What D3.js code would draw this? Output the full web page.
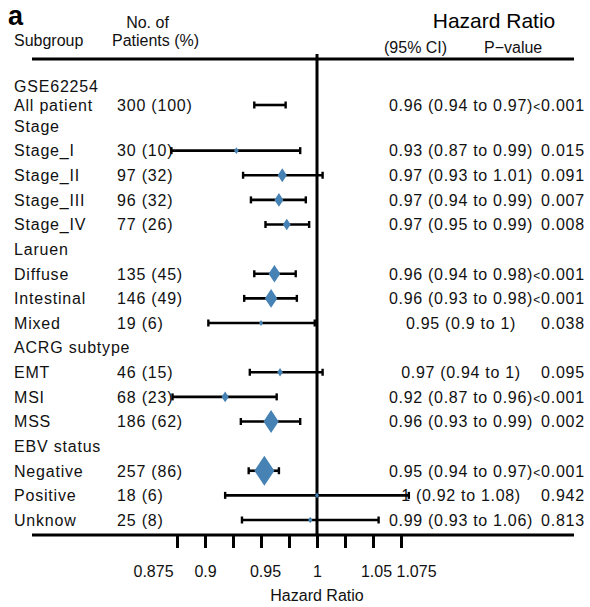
<!DOCTYPE html>
<html>
<head>
<meta charset="utf-8">
<script src="https://cdn.jsdelivr.net/npm/d3@7"></script>
<style>
  body { margin: 0; background: #fff; }
  svg { display: block; font-family: "Liberation Sans", Arial, sans-serif; }
  .row text { font-size: 16px; letter-spacing: 0.8px; fill: #111; }
  .row text.hr { letter-spacing: 0.7px; }
  .hdr { font-size: 16px; fill: #111; }
</style>
</head>
<body>
<script>
const w = 590;
const h = 607;

// rows of the forest plot, top to bottom
const labels = ["GSE62254", "All patient", "Stage", "Stage_I", "Stage_II", "Stage_III", "Stage_IV",
  "Laruen", "Diffuse", "Intestinal", "Mixed", "ACRG subtype", "EMT", "MSI", "MSS",
  "EBV status", "Negative", "Positive", "Unknow"];
const patients = [null, 300, null, 30, 97, 96, 77, null, 135, 146, 19, null, 46, 68, 186, null, 257, 18, 25];
const percent = [null, 100, null, 10, 32, 32, 26, null, 45, 49, 6, null, 15, 23, 62, null, 86, 6, 8];
// estimates read off the marks
const hr = [null, 0.958, null, 0.928, 0.969, 0.966, 0.973, null, 0.962, 0.959, 0.950, null, 0.967, 0.918, 0.959, null, 0.953, 1.0, 0.994];
const lower = [null, 0.944, null, 0.870, 0.934, 0.941, 0.954, null, 0.944, 0.935, 0.903, null, 0.940, 0.871, 0.932, null, 0.939, 0.918, 0.933];
const upper = [null, 0.972, null, 0.985, 1.005, 0.990, 0.993, null, 0.981, 0.982, 0.998, null, 1.005, 0.964, 0.985, null, 0.966, 1.082, 1.055];
const hrText = [null, "0.96 (0.94 to 0.97)", null, "0.93 (0.87 to 0.99)", "0.97 (0.93 to 1.01)",
  "0.97 (0.94 to 0.99)", "0.97 (0.95 to 0.99)", null, "0.96 (0.94 to 0.98)", "0.96 (0.93 to 0.98)",
  "0.95 (0.9 to 1)", null, "0.97 (0.94 to 1)", "0.92 (0.87 to 0.96)", "0.96 (0.93 to 0.99)", null,
  "0.95 (0.94 to 0.97)", "1 (0.92 to 1.08)", "0.99 (0.93 to 1.06)"];
const pText = [null, "<0.001", null, "0.015", "0.091", "0.007", "0.008", null, "<0.001", "<0.001",
  "0.038", null, "0.095", "<0.001", "0.002", null, "<0.001", "0.942", "0.813"];
const noBox = ["All patient"];

const axisTicks = [0.875, 0.9, 0.925, 0.95, 0.975, 1, 1.025, 1.05, 1.075];
const tickLabels = [0.875, 0.9, 0.95, 1, 1.05, 1.075];
// the labels at the ends are pushed outward in the original
const tickNudge = { 0.875: -24, 0.95: 4, 1.05: 3, 1.075: 15 };

const rows = labels.map((l, i) => ({
  i, label: l, n: patients[i], pct: percent[i], hr: hr[i], lo: lower[i], hi: upper[i],
  hrText: hrText[i], p: pText[i]
}));

let svg = d3.select("body").append("svg")
    .attr("width", w)
    .attr("height", h);

const x = d3.scaleLinear().domain([0.875, 1.075]).range([177, 401]);
const y = d3.scaleLinear().domain([0, 1, 2, labels.length - 1]).range([86.5, 105, 126, 520]);
const boxW = d3.scaleLinear().domain([0, 257]).range([2.6, 20]);

const lineL = 32, lineR = 574, topLine = 59, axisY = 535;

// header
svg.append("text").attr("x", 8).attr("y", 25)
    .style("font-size", "27px").style("font-weight", "bold").text("a");
svg.append("text").attr("class", "hdr").attr("x", 147.5).attr("y", 28)
    .attr("text-anchor", "middle").text("No. of");
svg.append("text").attr("class", "hdr").attr("x", 14).attr("y", 45.5).text("Subgroup");
svg.append("text").attr("class", "hdr").attr("x", 112).attr("y", 45.5).text("Patients (%)");
svg.append("text").attr("x", 494).attr("y", 28).attr("text-anchor", "middle")
    .style("font-size", "21px").text("Hazard Ratio");
svg.append("text").attr("class", "hdr").attr("x", 384).attr("y", 52.5).text("(95% CI)");
svg.append("text").attr("class", "hdr").attr("x", 484).attr("y", 52.5).text("P\u2212value");

svg.append("line")
    .attr("x1", lineL).attr("x2", lineR).attr("y1", topLine).attr("y2", topLine)
    .attr("stroke", "#000").attr("stroke-width", 3);

// reference line at HR = 1
svg.append("line")
    .attr("x1", x(1)).attr("x2", x(1)).attr("y1", 54).attr("y2", axisY)
    .attr("stroke", "#000").attr("stroke-width", 3);

// text columns
let g = svg.append("g").attr("class", "row");
g.selectAll("text.lab")
    .data(rows)
    .enter().append("text")
    .attr("class", "lab")
    .attr("x", 14).attr("y", (d) => y(d.i)).attr("dy", "0.36em")
    .text((d) => d.label);
g.selectAll("text.num")
    .data(rows.filter((d) => d.n != null))
    .enter().append("text")
    .attr("class", "num")
    .attr("x", 117).attr("y", (d) => y(d.i)).attr("dy", "0.36em")
    .text((d) => d.n + " (" + d.pct + ")");
g.selectAll("text.hr")
    .data(rows.filter((d) => d.hrText))
    .enter().append("text")
    .attr("class", "hr")
    .attr("x", 461).attr("y", (d) => y(d.i)).attr("dy", "0.36em")
    .attr("text-anchor", "middle")
    .text((d) => d.hrText);
const pv = g.selectAll("text.pv")
    .data(rows.filter((d) => d.p))
    .enter().append("text")
    .attr("class", "pv")
    .attr("x", 585).attr("y", (d) => y(d.i)).attr("dy", "0.36em")
    .attr("text-anchor", "end");
// the "<" is set smaller, as in the original
pv.filter((d) => d.p[0] === "<").append("tspan")
    .style("font-size", "12px").text("<");
pv.append("tspan").text((d) => d.p.replace("<", ""));

// confidence intervals
const ci = svg.append("g").selectAll("g")
    .data(rows.filter((d) => d.lo != null))
    .enter().append("g");
ci.append("line")
    .attr("x1", (d) => x(d.lo)).attr("x2", (d) => x(d.hi))
    .attr("y1", (d) => y(d.i)).attr("y2", (d) => y(d.i))
    .attr("stroke", "#000").attr("stroke-width", 2.6);
ci.selectAll("line.cap")
    .data((d) => [[d.lo, d.i], [d.hi, d.i]])
    .enter().append("line")
    .attr("class", "cap")
    .attr("x1", (d) => x(d[0])).attr("x2", (d) => x(d[0]))
    .attr("y1", (d) => y(d[1]) - 3.5).attr("y2", (d) => y(d[1]) + 3.5)
    .attr("stroke", "#000").attr("stroke-width", 2.4);

// boxes (diamonds)
svg.append("g").selectAll("path")
    .data(rows.filter((d) => d.hr != null && !noBox.includes(d.label)))
    .enter().append("path")
    .attr("d", (d) => {
        const cx = x(d.hr), cy = y(d.i);
        const bw = boxW(d.n) / 2;
        const bh = Math.min(boxW(d.n) * 1.5, 30) / 2;
        return "M" + (cx - bw) + "," + cy + "L" + cx + "," + (cy - bh) +
            "L" + (cx + bw) + "," + cy + "L" + cx + "," + (cy + bh) + "Z";
    })
    .style("fill", "#4682b4");

// bottom axis
svg.append("line")
    .attr("x1", lineL).attr("x2", lineR).attr("y1", axisY).attr("y2", axisY)
    .attr("stroke", "#000").attr("stroke-width", 3);

const ax = svg.append("g")
    .attr("transform", "translate(0," + axisY + ")")
    .call(d3.axisBottom(x)
        .tickValues(axisTicks)
        .tickSize(13)
        .tickSizeOuter(0)
        .tickPadding(18)
        .tickFormat((d) => tickLabels.includes(d) ? String(d) : ""));
ax.select(".domain").remove();
ax.selectAll(".tick line").attr("stroke", "#000").attr("stroke-width", 3);
ax.selectAll(".tick text")
    .attr("dx", (d) => tickNudge[d] || 0)
    .style("font-family", "'Liberation Sans', Arial, sans-serif")
    .style("font-size", "16px").attr("fill", "#111");

svg.append("text").attr("class", "hdr")
    .attr("x", x(1)).attr("y", 601).attr("text-anchor", "middle")
    .text("Hazard Ratio");
</script>
</body>
</html>
